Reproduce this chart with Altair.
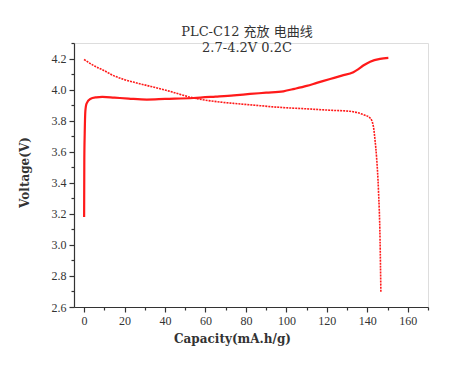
import altair as alt
import pandas as pd

# Charge curve (solid)
charge_cap = [0, 0.1, 0.3, 0.6, 1.2, 3, 6, 9, 15, 22, 31, 40, 54, 65, 74, 82, 90, 98.5,
              104, 110, 115, 121.6, 127.4, 133.1, 135.6, 138, 141.4, 146.3, 150.4]
charge_v = [3.18, 3.55, 3.72, 3.86, 3.91, 3.94, 3.95, 3.953, 3.948, 3.942, 3.936, 3.940,
            3.946, 3.955, 3.963, 3.972, 3.980, 3.989, 4.005, 4.024, 4.043, 4.068, 4.090,
            4.112, 4.132, 4.155, 4.180, 4.198, 4.204]

# Discharge curve (dotted)
discharge_cap = [0, 2.5, 5.4, 9.5, 14.5, 20, 26, 33, 42, 54, 67, 74, 82, 98.5, 110,
                 121.6, 131.5, 138, 141.4, 143, 143.8, 144.6, 145.5, 146.3, 146.7]
discharge_v = [4.194, 4.172, 4.150, 4.125, 4.090, 4.064, 4.043, 4.020, 3.990, 3.946,
               3.920, 3.911, 3.902, 3.884, 3.876, 3.867, 3.860, 3.839, 3.817, 3.763,
               3.677, 3.560, 3.355, 3.032, 2.699]

x_ticks = list(range(0, 171, 10))
y_ticks = [round(2.6 + 0.1 * i, 1) for i in range(18)]

title_lines = ["PLC-C12 充放 电曲线", "2.7-4.2V 0.2C"]
x_title = "Capacity(mA.h/g)"
y_title = "Voltage(V)"

charge = pd.DataFrame({"cap": charge_cap, "v": charge_v, "i": range(len(charge_cap))})
discharge = pd.DataFrame({"cap": discharge_cap, "v": discharge_v, "i": range(len(discharge_cap))})

TXT = "#333333"
RED = "#ff1a1a"

x_axis = alt.Axis(
    values=x_ticks,
    labelExpr="datum.value % 20 === 0 ? datum.label : ''",
    tickSize={"condition": {"test": "datum.value % 20 === 0", "value": 5}, "value": 3},
    title=x_title, grid=False, labelOverlap=False, labelFlush=False,
    labelFont="Liberation Serif", labelFontSize=12, labelColor=TXT, labelPadding=3,
    titleFont="DejaVu Serif", titleFontSize=12, titleFontWeight="bold", titleColor=TXT,
    titleX=158, titleY=35, titleAlign="center", titleBaseline="alphabetic",
    domainColor=TXT, tickColor=TXT, domainWidth=1.2, tickWidth=1.2,
)
y_axis = alt.Axis(
    values=y_ticks,
    labelExpr="round(datum.value*10) % 2 === 0 ? format(datum.value, '.1f') : ''",
    tickSize={"condition": {"test": "round(datum.value*10) % 2 === 0", "value": 5}, "value": 3},
    title=y_title, grid=False, labelOverlap=False, labelFlush=False,
    labelFont="Liberation Serif", labelFontSize=12, labelColor=TXT, labelPadding=3,
    titleFont="DejaVu Serif", titleFontSize=12, titleFontWeight="bold", titleColor=TXT,
    titleX=-50, titleY=129, titleAlign="center", titleBaseline="middle", titleAngle=-90,
    domainColor=TXT, tickColor=TXT, domainWidth=1.2, tickWidth=1.2,
)

xs = alt.Scale(domain=[-5, 170], nice=False, zero=False)
ys = alt.Scale(domain=[2.6, 4.3], nice=False, zero=False)

charge_line = alt.Chart(charge).mark_line(color=RED, strokeWidth=2.2, interpolate="monotone").encode(
    x=alt.X("cap:Q", scale=xs, axis=x_axis),
    y=alt.Y("v:Q", scale=ys, axis=y_axis),
    order="i:Q",
)
discharge_line = alt.Chart(discharge).mark_line(
    color=RED, strokeWidth=1.6, strokeDash=[2, 1], interpolate="monotone"
).encode(
    x=alt.X("cap:Q", scale=xs, axis=x_axis),
    y=alt.Y("v:Q", scale=ys, axis=y_axis),
    order="i:Q",
)

chart = alt.layer(charge_line, discharge_line).properties(
    width=354, height=264,
    title=alt.TitleParams(
        text=title_lines, font="DejaVu Serif, Noto Sans CJK SC", fontSize=13,
        fontWeight="normal", color=TXT, anchor="middle", frame="group",
        baseline="top", offset=-18, dx=-4, lineHeight=16,
    ),
    autosize=alt.AutoSizeParams(type="none"),
    padding={"left": 66, "top": 35, "right": 14, "bottom": 53},
).configure_view(stroke=None).configure(background="white")

chart.save("out.html", embed_options={"renderer": "svg", "actions": False})
